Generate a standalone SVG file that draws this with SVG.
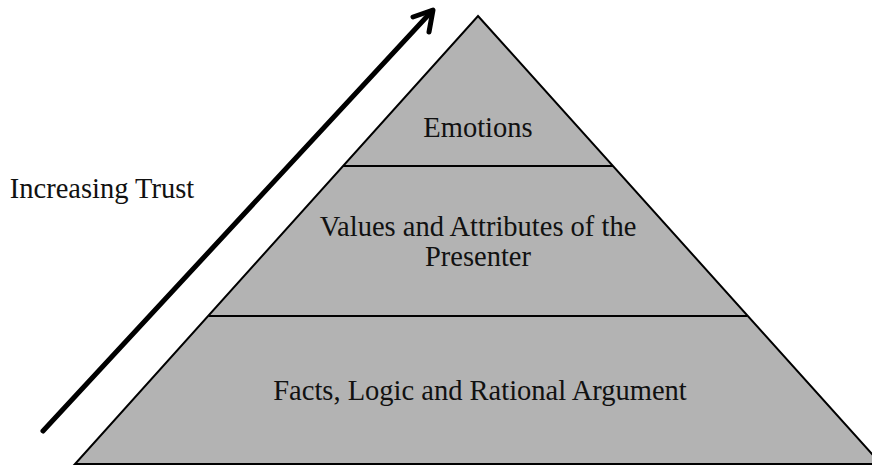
<svg xmlns="http://www.w3.org/2000/svg" width="872" height="466" viewBox="0 0 872 466">
<style>
.t{font-family:"Liberation Serif","Times New Roman",serif;font-size:28.5px;fill:#111;text-anchor:middle}
.tier{fill:#b3b3b3;stroke:#000;stroke-width:2;stroke-linejoin:miter}
.sep{stroke:#000;stroke-width:2}
</style>
<rect width="872" height="466" fill="#fff"/>
<g id="pyramid">
<polygon class="tier" points="478,16 881,464 75,464"/>
</g>
<g id="connectors">
<line class="sep" x1="343" y1="166" x2="613" y2="166"/>
<line class="sep" x1="209" y1="316" x2="747" y2="316"/>
<g fill="none" stroke="#000" stroke-width="5" stroke-linecap="round" stroke-linejoin="round">
<line x1="43" y1="431" x2="432" y2="11"/>
<polyline points="413,17 433,10 429,32"/>
</g>
</g>
<g id="emotions"><text class="t" x="478" y="137">Emotions</text></g>
<g id="values"><text class="t" x="478" y="236">Values and Attributes of the</text><text class="t" x="478" y="266">Presenter</text></g>
<g id="facts"><text class="t" x="480" y="400">Facts, Logic and Rational Argument</text></g>
<g id="trust"><text class="t" x="102" y="198">Increasing Trust</text></g>
</svg>
